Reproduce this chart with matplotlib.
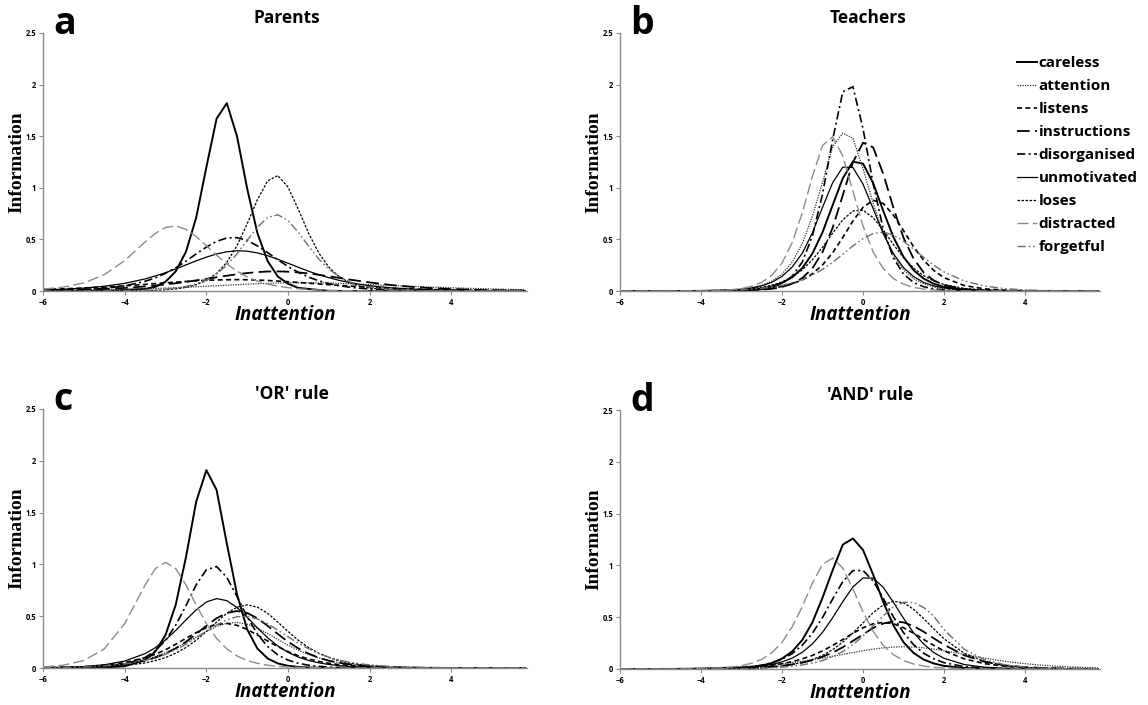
import matplotlib
matplotlib.use("Agg")
import matplotlib.pyplot as plt

plt.rcParams['font.family'] = ['Open Sans', 'DejaVu Sans']

# theta grid (Inattention) shared by every curve
X = [-6, -5.5, -5, -4.5, -4, -3.5, -3.25, -3, -2.75, -2.5, -2.25, -2, -1.75, -1.5, -1.25,
     -1, -0.75, -0.5, -0.25, 0, 0.25, 0.5, 0.75, 1, 1.25, 1.5, 1.75, 2, 2.5, 3, 3.5, 4, 4.5, 5, 5.8]

items = ["careless", "attention", "listens", "instructions", "disorganised",
         "unmotivated", "loses", "distracted", "forgetful"]

# a - Parents
a_careless = [0, 0, 0, 0, 0.01, 0.02, 0.04, 0.09, 0.19, 0.38, 0.71, 1.20, 1.67, 1.82, 1.50, 0.99, 0.56, 0.29, 0.14, 0.07, 0.03, 0.02, 0.01, 0, 0, 0, 0, 0, 0, 0, 0, 0, 0, 0, 0]
a_attention = [0.005, 0.007, 0.009, 0.012, 0.016, 0.022, 0.025, 0.028, 0.032, 0.036, 0.041, 0.046, 0.051, 0.056, 0.061, 0.066, 0.070, 0.074, 0.077, 0.079, 0.080, 0.080, 0.079, 0.077, 0.074, 0.070, 0.066, 0.062, 0.054, 0.046, 0.038, 0.031, 0.025, 0.020, 0.012]
a_listens = [0.015, 0.021, 0.029, 0.038, 0.050, 0.064, 0.072, 0.079, 0.086, 0.092, 0.099, 0.104, 0.107, 0.109, 0.110, 0.109, 0.106, 0.102, 0.096, 0.090, 0.083, 0.076, 0.068, 0.061, 0.054, 0.048, 0.042, 0.036, 0.027, 0.020, 0.014, 0.010, 0.007, 0.005, 0.003]
a_instructions = [0.006, 0.009, 0.013, 0.020, 0.030, 0.044, 0.053, 0.063, 0.075, 0.088, 0.103, 0.117, 0.133, 0.148, 0.162, 0.174, 0.183, 0.189, 0.190, 0.187, 0.180, 0.170, 0.157, 0.142, 0.127, 0.111, 0.097, 0.083, 0.059, 0.041, 0.028, 0.019, 0.013, 0.008, 0.004]
a_disorganised = [0.003, 0.006, 0.012, 0.025, 0.049, 0.094, 0.127, 0.172, 0.225, 0.289, 0.359, 0.426, 0.481, 0.514, 0.517, 0.490, 0.437, 0.372, 0.303, 0.237, 0.181, 0.135, 0.099, 0.072, 0.052, 0.037, 0.027, 0.019, 0.010, 0.005, 0.002, 0, 0, 0, 0]
a_unmotivated = [0.010, 0.017, 0.028, 0.046, 0.074, 0.117, 0.146, 0.177, 0.214, 0.253, 0.292, 0.328, 0.359, 0.380, 0.390, 0.386, 0.369, 0.342, 0.307, 0.269, 0.230, 0.192, 0.158, 0.129, 0.103, 0.082, 0.065, 0.051, 0.031, 0.019, 0.011, 0.007, 0.004, 0.002, 0.001]
a_loses = [0, 0, 0, 0, 0.001, 0.004, 0.007, 0.012, 0.020, 0.035, 0.060, 0.102, 0.170, 0.277, 0.439, 0.652, 0.885, 1.067, 1.119, 1.006, 0.793, 0.562, 0.370, 0.230, 0.138, 0.082, 0.048, 0.028, 0.009, 0.003, 0.001, 0, 0, 0, 0]
a_distracted = [0.018, 0.038, 0.078, 0.158, 0.294, 0.476, 0.558, 0.615, 0.630, 0.597, 0.527, 0.439, 0.347, 0.262, 0.192, 0.137, 0.096, 0.067, 0.047, 0.032, 0.022, 0.015, 0.010, 0.007, 0.005, 0.003, 0.002, 0.001, 0, 0, 0, 0, 0, 0, 0]
a_forgetful = [0, 0, 0, 0.001, 0.003, 0.007, 0.011, 0.017, 0.028, 0.044, 0.070, 0.109, 0.166, 0.249, 0.359, 0.492, 0.618, 0.713, 0.739, 0.682, 0.570, 0.437, 0.311, 0.212, 0.141, 0.090, 0.058, 0.037, 0.014, 0.006, 0.002, 0, 0, 0, 0]

# b - Teachers
b_careless = [0, 0, 0, 0, 0.001, 0.003, 0.005, 0.008, 0.015, 0.025, 0.044, 0.079, 0.132, 0.222, 0.363, 0.569, 0.832, 1.092, 1.254, 1.234, 1.045, 0.775, 0.522, 0.330, 0.201, 0.119, 0.070, 0.039, 0.013, 0.004, 0.001, 0, 0, 0, 0]
b_attention = [0, 0, 0, 0, 0.002, 0.006, 0.010, 0.017, 0.031, 0.055, 0.096, 0.164, 0.280, 0.459, 0.724, 1.053, 1.400, 1.530, 1.480, 1.183, 0.851, 0.558, 0.344, 0.203, 0.118, 0.069, 0.038, 0.021, 0.007, 0.002, 0, 0, 0, 0, 0]
b_listens = [0, 0, 0, 0, 0.001, 0.003, 0.004, 0.007, 0.011, 0.017, 0.027, 0.044, 0.070, 0.107, 0.167, 0.253, 0.370, 0.519, 0.678, 0.811, 0.879, 0.848, 0.735, 0.585, 0.427, 0.297, 0.198, 0.129, 0.053, 0.021, 0.008, 0.003, 0.001, 0, 0]
b_instructions = [0, 0, 0, 0, 0, 0.001, 0.002, 0.004, 0.007, 0.012, 0.021, 0.039, 0.071, 0.125, 0.220, 0.377, 0.613, 0.928, 1.247, 1.437, 1.391, 1.134, 0.806, 0.515, 0.312, 0.178, 0.101, 0.057, 0.017, 0.005, 0.002, 0, 0, 0, 0]
b_disorganised = [0, 0, 0, 0, 0, 0.001, 0.002, 0.004, 0.009, 0.017, 0.035, 0.072, 0.143, 0.280, 0.533, 0.940, 1.466, 1.930, 1.980, 1.572, 1.039, 0.598, 0.320, 0.164, 0.082, 0.041, 0.020, 0.010, 0.002, 0, 0, 0, 0, 0, 0]
b_unmotivated = [0, 0, 0, 0, 0.002, 0.006, 0.010, 0.017, 0.029, 0.050, 0.085, 0.142, 0.232, 0.366, 0.564, 0.811, 1.049, 1.200, 1.197, 1.035, 0.798, 0.555, 0.362, 0.226, 0.139, 0.083, 0.049, 0.029, 0.010, 0.003, 0.001, 0, 0, 0, 0]
b_loses = [0, 0, 0, 0, 0.002, 0.006, 0.009, 0.015, 0.023, 0.036, 0.057, 0.088, 0.137, 0.205, 0.302, 0.424, 0.561, 0.690, 0.775, 0.783, 0.711, 0.589, 0.450, 0.324, 0.221, 0.148, 0.096, 0.063, 0.025, 0.010, 0.004, 0.002, 0, 0, 0]
b_distracted = [0, 0, 0, 0.001, 0.002, 0.007, 0.013, 0.024, 0.045, 0.084, 0.153, 0.271, 0.468, 0.757, 1.110, 1.410, 1.496, 1.308, 0.968, 0.630, 0.378, 0.216, 0.120, 0.066, 0.035, 0.019, 0.010, 0.005, 0.001, 0, 0, 0, 0, 0, 0]
b_forgetful = [0, 0, 0.001, 0.002, 0.003, 0.006, 0.009, 0.013, 0.018, 0.027, 0.039, 0.055, 0.079, 0.110, 0.154, 0.209, 0.278, 0.356, 0.437, 0.508, 0.557, 0.570, 0.542, 0.483, 0.405, 0.325, 0.249, 0.185, 0.097, 0.048, 0.023, 0.011, 0.005, 0.002, 0.001]

# c - 'OR' rule
c_careless = [0, 0, 0, 0.004, 0.017, 0.077, 0.158, 0.319, 0.611, 1.070, 1.604, 1.910, 1.719, 1.203, 0.712, 0.372, 0.187, 0.092, 0.044, 0.021, 0.010, 0.005, 0.002, 0, 0, 0, 0, 0, 0, 0, 0, 0, 0, 0, 0]
c_attention = [0.003, 0.006, 0.012, 0.023, 0.044, 0.081, 0.111, 0.147, 0.191, 0.243, 0.299, 0.354, 0.401, 0.432, 0.440, 0.422, 0.385, 0.333, 0.276, 0.221, 0.172, 0.131, 0.098, 0.073, 0.053, 0.039, 0.028, 0.020, 0.010, 0.005, 0.003, 0.001, 0, 0, 0]
c_listens = [0.003, 0.007, 0.013, 0.027, 0.052, 0.099, 0.133, 0.176, 0.229, 0.286, 0.341, 0.390, 0.422, 0.430, 0.412, 0.372, 0.318, 0.261, 0.206, 0.158, 0.118, 0.087, 0.064, 0.046, 0.033, 0.024, 0.017, 0.012, 0.006, 0.003, 0.001, 0, 0, 0, 0]
c_instructions = [0.002, 0.004, 0.008, 0.017, 0.035, 0.070, 0.100, 0.139, 0.190, 0.253, 0.328, 0.407, 0.480, 0.531, 0.550, 0.531, 0.480, 0.407, 0.328, 0.253, 0.190, 0.139, 0.100, 0.070, 0.050, 0.035, 0.024, 0.017, 0.008, 0.004, 0.002, 0.001, 0, 0, 0]
c_disorganised = [0, 0.001, 0.004, 0.012, 0.035, 0.102, 0.167, 0.266, 0.414, 0.601, 0.803, 0.948, 0.979, 0.875, 0.690, 0.494, 0.327, 0.207, 0.126, 0.076, 0.045, 0.027, 0.016, 0.009, 0.005, 0.003, 0.002, 0.001, 0, 0, 0, 0, 0, 0, 0]
c_unmotivated = [0.003, 0.006, 0.014, 0.031, 0.067, 0.139, 0.196, 0.271, 0.363, 0.464, 0.561, 0.637, 0.670, 0.650, 0.584, 0.489, 0.387, 0.292, 0.213, 0.151, 0.106, 0.073, 0.050, 0.034, 0.023, 0.015, 0.010, 0.007, 0.003, 0.001, 0, 0, 0, 0, 0]
c_loses = [0.001, 0.002, 0.005, 0.011, 0.023, 0.049, 0.071, 0.101, 0.143, 0.198, 0.268, 0.353, 0.443, 0.528, 0.587, 0.610, 0.587, 0.528, 0.443, 0.353, 0.268, 0.198, 0.143, 0.101, 0.071, 0.049, 0.034, 0.023, 0.011, 0.005, 0.002, 0.001, 0, 0, 0]
c_distracted = [0.010, 0.027, 0.072, 0.184, 0.428, 0.802, 0.959, 1.020, 0.959, 0.802, 0.609, 0.428, 0.286, 0.184, 0.116, 0.072, 0.045, 0.027, 0.016, 0.010, 0.006, 0.004, 0.002, 0.001, 0, 0, 0, 0, 0, 0, 0, 0, 0, 0, 0]
c_forgetful = [0.003, 0.005, 0.010, 0.020, 0.039, 0.073, 0.098, 0.133, 0.176, 0.228, 0.289, 0.352, 0.415, 0.465, 0.495, 0.497, 0.473, 0.427, 0.365, 0.301, 0.240, 0.186, 0.140, 0.105, 0.077, 0.056, 0.041, 0.030, 0.015, 0.008, 0.004, 0.002, 0.001, 0, 0]

# d - 'AND' rule
d_careless = [0, 0, 0, 0, 0.001, 0.004, 0.006, 0.011, 0.019, 0.033, 0.058, 0.100, 0.169, 0.280, 0.450, 0.688, 0.954, 1.200, 1.260, 1.149, 0.911, 0.645, 0.421, 0.258, 0.154, 0.091, 0.053, 0.030, 0.010, 0.003, 0.001, 0, 0, 0, 0]
d_attention = [0.002, 0.002, 0.004, 0.006, 0.009, 0.015, 0.018, 0.022, 0.028, 0.034, 0.041, 0.051, 0.061, 0.074, 0.089, 0.105, 0.123, 0.141, 0.159, 0.177, 0.192, 0.204, 0.212, 0.215, 0.212, 0.204, 0.192, 0.177, 0.141, 0.105, 0.074, 0.051, 0.034, 0.022, 0.011]
d_listens = [0, 0, 0.001, 0.002, 0.003, 0.007, 0.009, 0.013, 0.019, 0.027, 0.037, 0.051, 0.071, 0.098, 0.131, 0.175, 0.227, 0.285, 0.345, 0.398, 0.437, 0.450, 0.437, 0.398, 0.345, 0.285, 0.227, 0.175, 0.098, 0.051, 0.027, 0.013, 0.007, 0.003, 0.001]
d_instructions = [0, 0, 0, 0.001, 0.002, 0.004, 0.005, 0.007, 0.011, 0.015, 0.022, 0.031, 0.044, 0.061, 0.085, 0.118, 0.159, 0.210, 0.271, 0.334, 0.396, 0.439, 0.460, 0.450, 0.414, 0.359, 0.295, 0.234, 0.132, 0.070, 0.035, 0.018, 0.009, 0.004, 0.001]
d_disorganised = [0, 0, 0, 0, 0.002, 0.005, 0.009, 0.014, 0.023, 0.037, 0.060, 0.095, 0.148, 0.230, 0.345, 0.497, 0.676, 0.843, 0.950, 0.951, 0.849, 0.682, 0.502, 0.351, 0.234, 0.151, 0.097, 0.061, 0.023, 0.009, 0.003, 0.001, 0, 0, 0]
d_unmotivated = [0, 0, 0, 0, 0.002, 0.004, 0.007, 0.011, 0.017, 0.028, 0.044, 0.069, 0.105, 0.161, 0.242, 0.354, 0.495, 0.650, 0.792, 0.879, 0.877, 0.788, 0.643, 0.489, 0.349, 0.240, 0.158, 0.103, 0.043, 0.017, 0.007, 0.003, 0.001, 0, 0]
d_loses = [0, 0, 0, 0, 0.001, 0.003, 0.004, 0.006, 0.009, 0.013, 0.020, 0.029, 0.043, 0.064, 0.092, 0.131, 0.187, 0.259, 0.348, 0.445, 0.544, 0.619, 0.654, 0.639, 0.576, 0.485, 0.386, 0.291, 0.152, 0.073, 0.034, 0.016, 0.007, 0.003, 0.001]
d_distracted = [0, 0, 0, 0.001, 0.004, 0.011, 0.019, 0.032, 0.056, 0.094, 0.157, 0.257, 0.407, 0.602, 0.829, 1.011, 1.070, 0.974, 0.774, 0.551, 0.364, 0.227, 0.138, 0.082, 0.048, 0.028, 0.016, 0.010, 0.003, 0.001, 0, 0, 0, 0, 0]
d_forgetful = [0, 0, 0, 0, 0.001, 0.002, 0.002, 0.004, 0.005, 0.008, 0.012, 0.018, 0.026, 0.039, 0.057, 0.082, 0.119, 0.169, 0.235, 0.319, 0.416, 0.514, 0.597, 0.644, 0.643, 0.593, 0.508, 0.380, 0.190, 0.090, 0.040, 0.017, 0.007, 0.003, 0.001]

panels = [
    ("a", "Parents", [a_careless, a_attention, a_listens, a_instructions, a_disorganised,
                      a_unmotivated, a_loses, a_distracted, a_forgetful]),
    ("b", "Teachers", [b_careless, b_attention, b_listens, b_instructions, b_disorganised,
                       b_unmotivated, b_loses, b_distracted, b_forgetful]),
    ("c", "'OR' rule", [c_careless, c_attention, c_listens, c_instructions, c_disorganised,
                        c_unmotivated, c_loses, c_distracted, c_forgetful]),
    ("d", "'AND' rule", [d_careless, d_attention, d_listens, d_instructions, d_disorganised,
                         d_unmotivated, d_loses, d_distracted, d_forgetful]),
]

# line look for each item (same order as items)
styles = [
    dict(color="black", lw=1.4, ls="-"),
    dict(color="#333333", lw=0.9, ls=(0, (1, 1))),
    dict(color="black", lw=1.2, ls=(0, (3, 2))),
    dict(color="black", lw=1.3, ls=(0, (7, 3))),
    dict(color="black", lw=1.2, ls=(0, (5, 2, 1.2, 2))),
    dict(color="black", lw=0.9, ls="-"),
    dict(color="black", lw=0.9, ls=(0, (2, 1.2))),
    dict(color="#8c8c8c", lw=1.0, ls=(0, (8, 3))),
    dict(color="#6e6e6e", lw=1.0, ls=(0, (6, 2, 1.2, 2, 1.2, 2))),
]

W, H = 1148, 705
fig = plt.figure(figsize=(W / 100, H / 100), dpi=100)

# axes boxes in pixels: left, top, width, height
boxes = [(43, 33, 484, 258), (620, 33, 480, 258), (43, 409, 484, 259), (620, 410, 480, 259)]
title_x = [287, 868, 292, 870]

for (letter, title, curves), (l, t, w, h), tx in zip(panels, boxes, title_x):
    ax = fig.add_axes([l / W, 1 - (t + h) / H, w / W, h / H])
    for y, st, name in zip(curves, styles, items):
        ax.plot(X, y, label=name, **st)
    ax.set_xlim(-6, 5.85)
    ax.set_ylim(0, 2.5)
    ax.set_xticks([-6, -4, -2, 0, 2, 4])
    ax.set_yticks([0, 0.5, 1, 1.5, 2, 2.5])
    ax.set_yticklabels(["0", "0.5", "1", "1.5", "2", "2.5"])
    for s in ["top", "right"]:
        ax.spines[s].set_visible(False)
    for s in ["left", "bottom"]:
        ax.spines[s].set_color("#8a8a8a")
        ax.spines[s].set_linewidth(1.0)
    ax.tick_params(length=3, width=0.8, color="#8a8a8a", labelsize=5.5, pad=2)
    for lab in ax.get_xticklabels() + ax.get_yticklabels():
        lab.set_fontweight("bold")
    ax.set_ylabel("Information", family=["Liberation Serif", "DejaVu Serif"],
                  fontweight="bold", fontsize=14)
    ax.yaxis.set_label_coords(-0.037, 0.5)
    ax.set_xlabel("Inattention", fontsize=13.5, fontweight="bold", style="italic")
    ax.xaxis.set_label_coords(0.5, -0.055)
    fig.text(tx / W, 1 - (t - 10) / H, title, ha="center", va="baseline",
             fontsize=12.5, fontweight="bold")
    fig.text((l + 10) / W, 1 - (t + 1) / H, letter, ha="left", va="baseline",
             fontsize=27, fontweight="bold")
    if letter == "b":
        ax.legend(loc="upper left", bbox_to_anchor=(1017 / W, 1 - 56 / H),
                  bbox_transform=fig.transFigure, frameon=False,
                  prop=dict(weight="bold", size=11), handlelength=1.3,
                  handletextpad=0.12, labelspacing=0.59, borderpad=0,
                  borderaxespad=0)

fig.savefig("out.png", dpi=100)
